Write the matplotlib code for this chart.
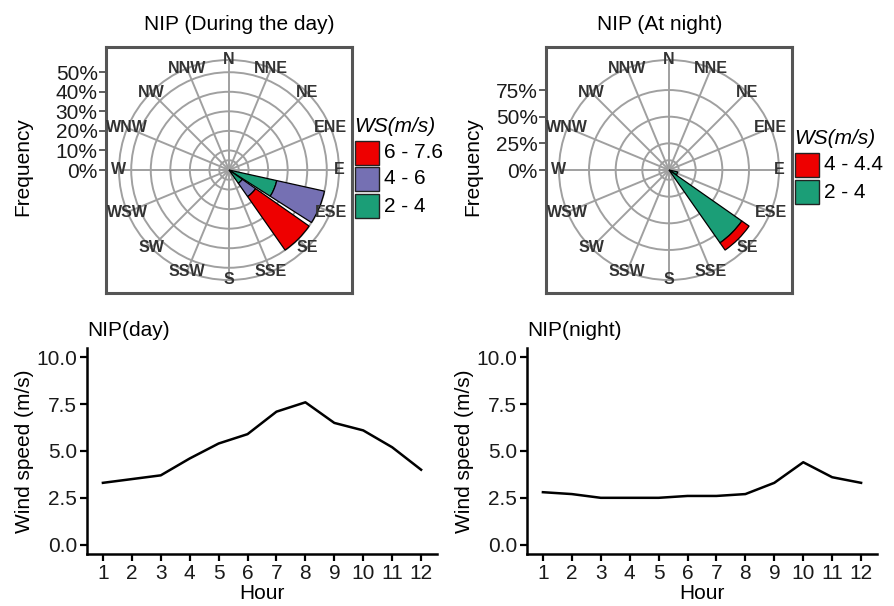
import matplotlib
matplotlib.use("Agg")
import matplotlib.pyplot as plt
from matplotlib.patches import Wedge, Circle, Rectangle
import numpy as np

plt.rcParams["font.family"] = ["Liberation Sans", "DejaVu Sans"]

# ---- data ----
directions = ["N", "NNE", "NE", "ENE", "E", "ESE", "SE", "SSE",
              "S", "SSW", "SW", "WSW", "W", "WNW", "NW", "NNW"]

day_sectors = ["ESE", "SE"]
day_bins = ["2 - 4", "4 - 6", "6 - 7.6"]
day_freq_2_4 = [25.0, 8.3]
day_freq_4_6 = [25.0, 8.3]
day_freq_6_76 = [0.0, 33.4]
day_breaks = [0, 10, 20, 30, 40, 50]

night_sectors = ["ESE", "SE"]
night_bins = ["2 - 4", "4 - 4.4"]
night_freq_2_4 = [8.3, 83.4]
night_freq_4_44 = [0.0, 8.3]
night_breaks = [0, 25, 50, 75]

hours = [1, 2, 3, 4, 5, 6, 7, 8, 9, 10, 11, 12]
day_speed = [3.3, 3.5, 3.7, 4.6, 5.4, 5.9, 7.1, 7.6, 6.5, 6.1, 5.2, 4.0]
night_speed = [2.8, 2.7, 2.5, 2.5, 2.5, 2.6, 2.6, 2.7, 3.3, 4.4, 3.6, 3.3]

bin_colors_day = ["#1b9e77", "#7570b3", "#ee0000"]
bin_colors_night = ["#1b9e77", "#ee0000"]

W, H = 894, 606
fig = plt.figure(figsize=(W / 100, H / 100), dpi=100)


def fx(x):
    return x / W


def fy(y):
    return 1 - y / H


def rose(box, sectors, freqs, colors, breaks, bins, title, title_x, ylab_x, leg_x, leg_title_y, key_ys):
    left, top, size = box
    ax = fig.add_axes([fx(left), fy(top + size), size / W, size / H])
    totals = np.sum(np.array(freqs), axis=0)
    rmax = totals.max()
    r_out = rmax * 1.125
    lim = r_out * 123 / 110
    ax.set_xlim(-lim, lim)
    ax.set_ylim(-lim, lim)

    grid_c = "#a0a0a0"
    for b in [rmax * 0.1] + breaks[1:] + [r_out]:
        ax.add_patch(Circle((0, 0), b, fill=False, ec=grid_c, lw=1.4, zorder=1))
    for i, d in enumerate(directions):
        ang = np.deg2rad(i * 22.5)
        ax.plot([0, r_out * np.sin(ang)], [0, r_out * np.cos(ang)], color=grid_c, lw=1.4, zorder=1)

    # stacked wedges
    for j, sec in enumerate(sectors):
        bearing = directions.index(sec) * 22.5
        r0 = 0
        for k in range(len(freqs)):
            v = freqs[k][j]
            if v <= 0:
                continue
            ax.add_patch(Wedge((0, 0), r0 + v, 90 - bearing - 10, 90 - bearing + 10, width=v,
                               fc=colors[k], ec="black", lw=0.9, zorder=3))
            r0 += v

    for i, d in enumerate(directions):
        ang = np.deg2rad(i * 22.5)
        ax.text(r_out * np.sin(ang), r_out * np.cos(ang), d, ha="center", va="center",
                fontsize=11.5, fontweight="bold", color="#333333", zorder=5, clip_on=False)

    ax.set_xticks([])
    ax.set_yticks(breaks)
    ax.set_yticklabels([f"{b}%" for b in breaks])
    ax.tick_params(axis="y", direction="out", length=5, width=1.2, color="#444444",
                   labelsize=15, labelcolor="#1a1a1a", pad=1)
    for s in ax.spines.values():
        s.set_color("#555555")
        s.set_linewidth(2.2)

    fig.text(fx(title_x), fy(24), title, ha="center", va="center", fontsize=15)
    fig.text(fx(ylab_x), fy(167), "Frequency", ha="center", va="center", rotation=90, fontsize=15)

    # legend (highest bin on top)
    fig.text(fx(leg_x), fy(leg_title_y), "WS(m/s)", ha="left", va="center", fontsize=15, style="italic")
    for k, yk in zip(range(len(bins) - 1, -1, -1), key_ys):
        fig.add_artist(Rectangle((fx(leg_x + 1), fy(yk + 24)), 24 / W, 24 / H, transform=fig.transFigure,
                                 fc=colors[k], ec="#222222", lw=1.0))
        fig.text(fx(leg_x + 30), fy(yk + 12), bins[k], ha="left", va="center", fontsize=15)
    return ax


rose((106, 47, 246), day_sectors, [day_freq_2_4, day_freq_4_6, day_freq_6_76], bin_colors_day,
     day_breaks, day_bins, "NIP (During the day)", 239, 23, 354, 127, [141, 167, 194])
rose((546, 47, 246), night_sectors, [night_freq_2_4, night_freq_4_44], bin_colors_night,
     night_breaks, night_bins, "NIP (At night)", 660, 473, 794, 138, [153, 180])


def line_panel(left, speeds, title):
    ax = fig.add_axes([fx(left), fy(554), 350 / W, 206 / H])
    ax.plot(hours, speeds, color="black", lw=1.8)
    ax.set_xlim(0.45, 12.55)
    ax.set_ylim(-0.5, 10.5)
    ax.set_xticks(hours)
    ax.set_yticks([0, 2.5, 5, 7.5, 10])
    ax.set_yticklabels(["0.0", "2.5", "5.0", "7.5", "10.0"])
    for s in ["top", "right"]:
        ax.spines[s].set_visible(False)
    for s in ["left", "bottom"]:
        ax.spines[s].set_linewidth(1.8)
        ax.spines[s].set_color("black")
    ax.tick_params(direction="out", length=5, width=1.6, labelsize=15, labelcolor="#1a1a1a", pad=2)
    ax.set_xlabel("Hour", fontsize=15, labelpad=1)
    ax.set_ylabel("Wind speed (m/s)", fontsize=15, labelpad=2)
    ax.set_title(title, loc="left", fontsize=15, pad=9)
    return ax


line_panel(87, day_speed, "NIP(day)")
line_panel(527, night_speed, "NIP(night)")

fig.savefig("out.png", dpi=100)
